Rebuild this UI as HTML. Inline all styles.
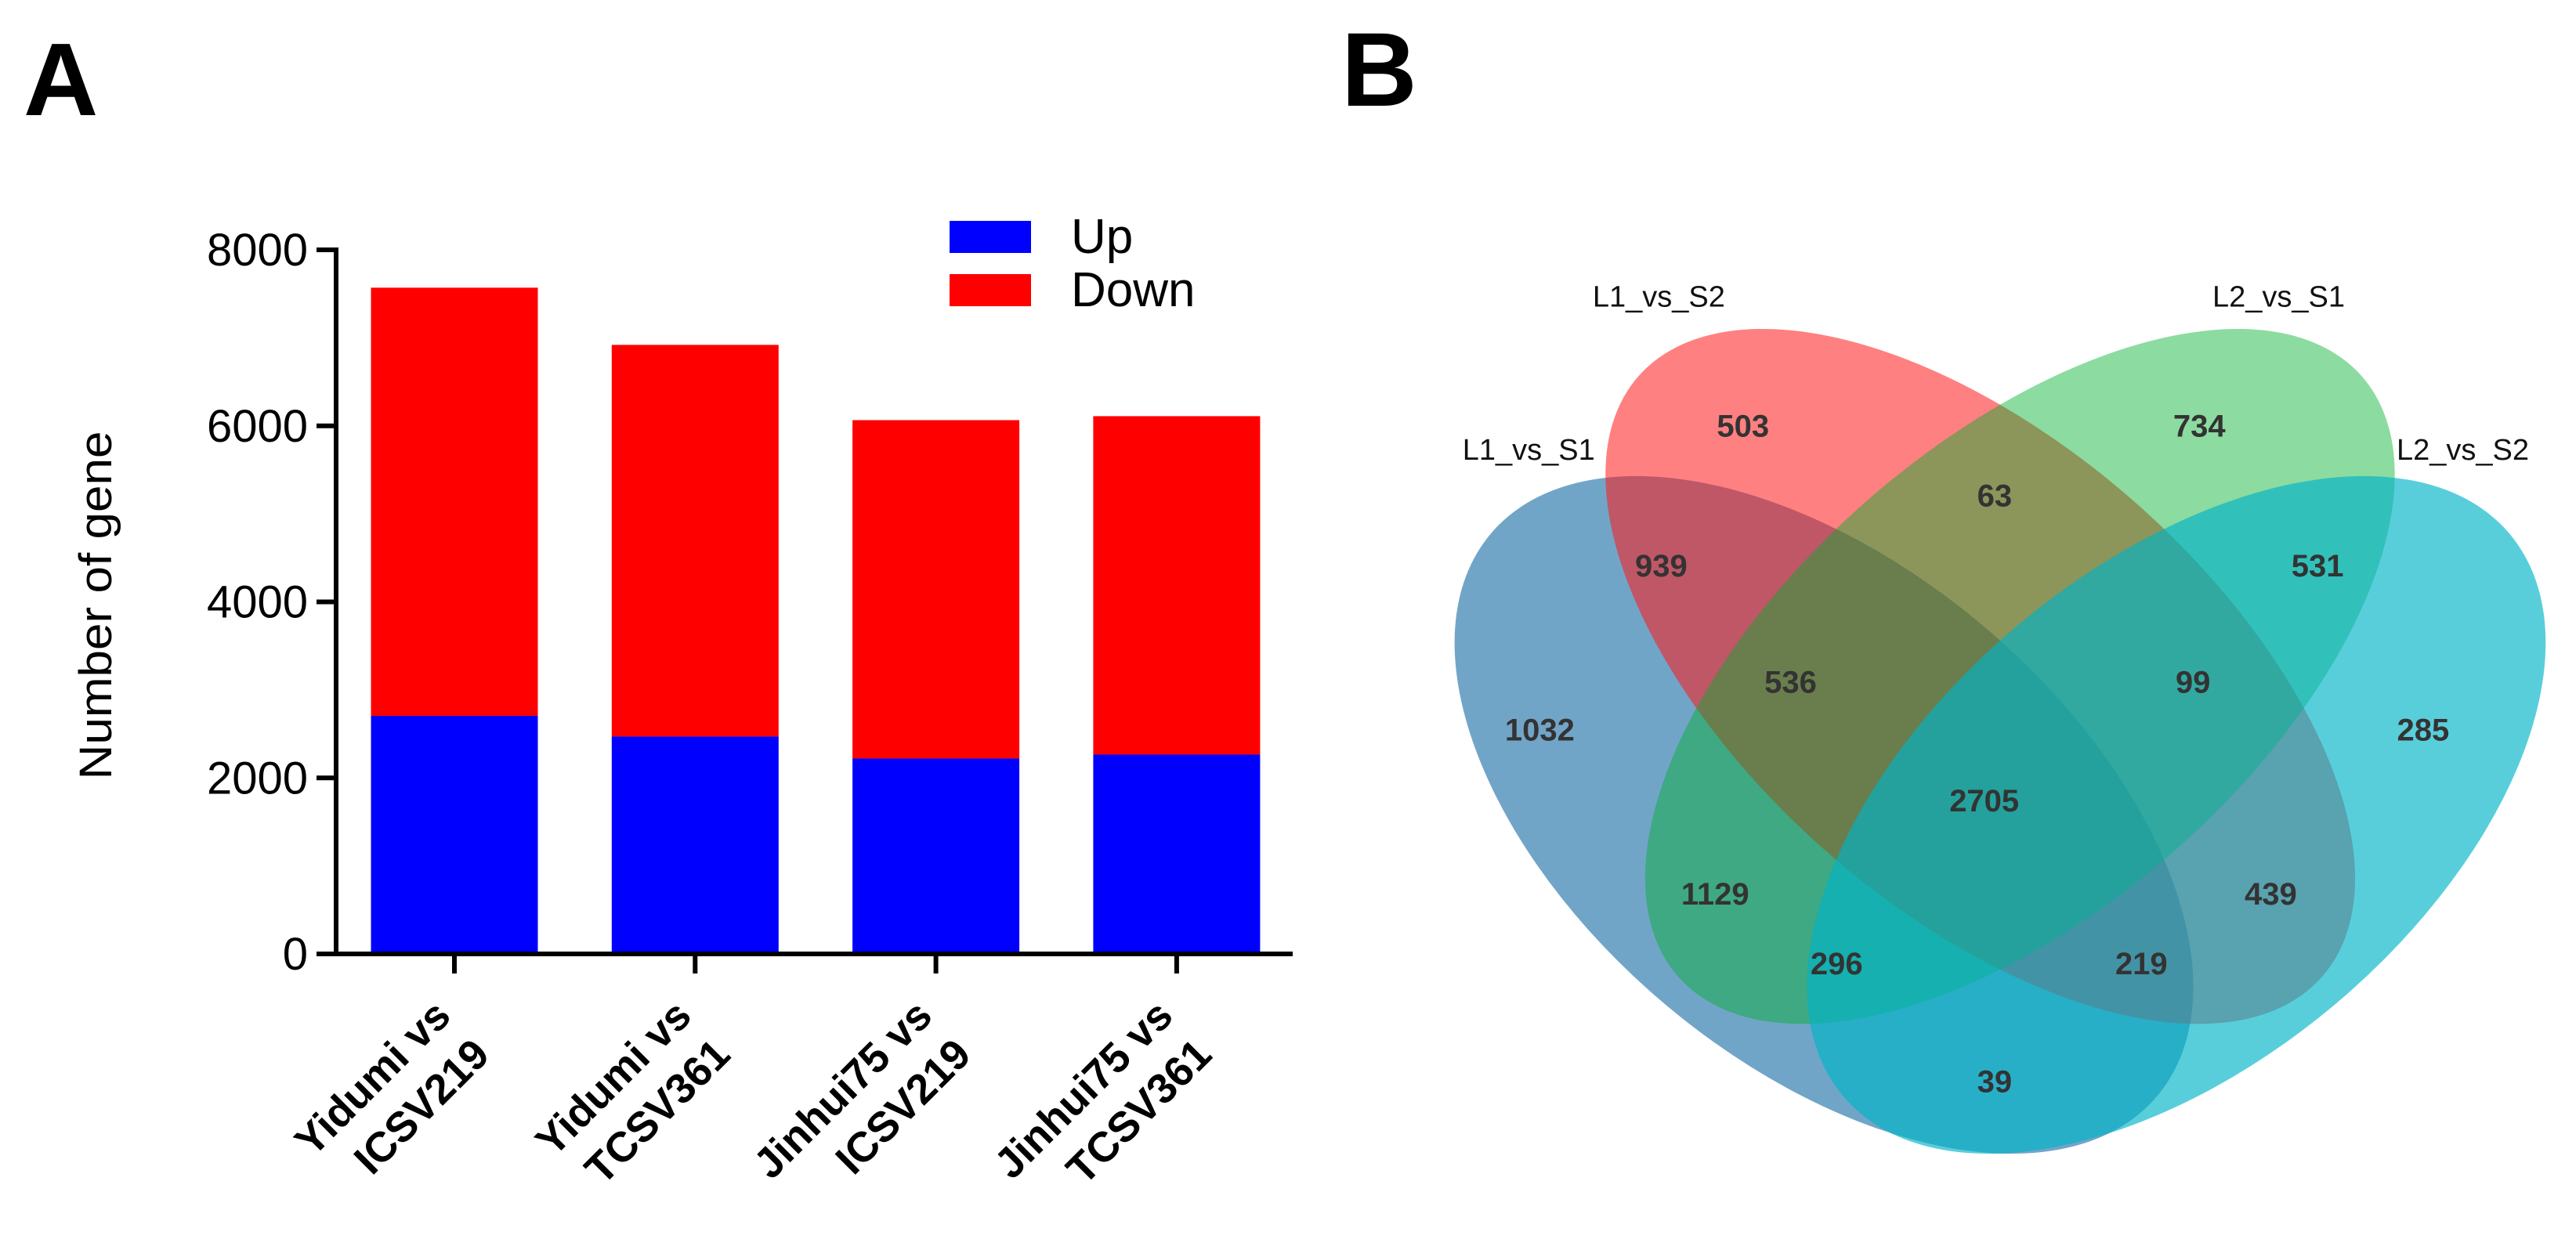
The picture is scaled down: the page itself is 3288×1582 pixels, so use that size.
<!DOCTYPE html>
<html><head><meta charset="utf-8"><style>
html,body{margin:0;padding:0;background:#fff;}
svg{display:block;font-family:"Liberation Sans",Arial,sans-serif;}
</style></head><body>
<svg id="fig" width="3288" height="1582" viewBox="0 0 3288 1582" xmlns="http://www.w3.org/2000/svg">
<text x="30" y="147" font-size="132" font-weight="bold">A</text>
<text x="1712" y="135" font-size="134" font-weight="bold">B</text>
<g id="bars"></g>
<g id="venn"></g>
</svg>
<script>
const categories = [["Yidumi vs","ICSV219"],["Yidumi vs","TCSV361"],["Jinhui75 vs","ICSV219"],["Jinhui75 vs","TCSV361"]];
const upValues = [2705, 2470, 2220, 2265];
const totalValues = [7570, 6920, 6065, 6110];
const yTicks = [0, 2000, 4000, 6000, 8000];
const legendLabels = ["Up", "Down"];

const vennSetLabels = ["L1_vs_S1", "L1_vs_S2", "L2_vs_S1", "L2_vs_S2"];
const vennCounts = [1032, 503, 734, 285, 939, 63, 531, 536, 99, 2705, 1129, 439, 296, 219, 39];

const NS = "http://www.w3.org/2000/svg";
function mk(tag, attrs, parent){const e=document.createElementNS(NS,tag);for(const k in attrs)e.setAttribute(k,attrs[k]);parent.appendChild(e);return e;}

// ---- Bar chart ----
const g = document.getElementById('bars');
const y0px = 1218, y8px = 319, axisX = 429;
const yScale = v => y0px - (v/8000)*(y0px - y8px);
const barW = 213, firstCenter = 580, step = 307.3;
const xCenter = i => firstCenter + i*step;

totalValues.forEach((t,i)=>{
  const down = mk('rect',{x:xCenter(i)-barW/2,y:yScale(t),width:barW,height:yScale(upValues[i])-yScale(t),fill:'#ff0000'},g);
  
  
  const up = mk('rect',{x:xCenter(i)-barW/2,y:yScale(upValues[i]),width:barW,height:yScale(0)-yScale(upValues[i]),fill:'#0000ff'},g);
  
  
});
const ya = mk('line',{x1:axisX,y1:y8px-3,x2:axisX,y2:y0px+3,stroke:'#000','stroke-width':6},g);


const xa = mk('line',{x1:axisX-25,y1:y0px,x2:1650,y2:y0px,stroke:'#000','stroke-width':6},g);


yTicks.forEach(v=>{
  const tk = mk('line',{x1:axisX-25,y1:yScale(v),x2:axisX,y2:yScale(v),stroke:'#000','stroke-width':6},g);
  
  
  const tl = mk('text',{x:393,y:yScale(v)+20,'font-size':58,'text-anchor':'end'},g);
  tl.textContent = v;
  
  
});
categories.forEach((c,i)=>{
  const tk = mk('line',{x1:xCenter(i),y1:y0px,x2:xCenter(i),y2:y0px+25,stroke:'#000','stroke-width':6},g);
  
  
  const tx = mk('text',{transform:`translate(${xCenter(i)-2},${y0px+82}) rotate(-45)`,'font-size':54,'font-weight':'bold','text-anchor':'end'},g);
  
  
  const t1 = mk('tspan',{x:0,y:0},tx); t1.textContent=c[0];
  const t2 = mk('tspan',{x:0,y:70},tx); t2.textContent=c[1];
});
const yt = mk('text',{transform:'translate(142,773) rotate(-90)','font-size':58,'text-anchor':'middle',textLength:445,lengthAdjust:'spacingAndGlyphs'},g);
yt.textContent='Number of gene';


const legColors=['#0000ff','#ff0000'];
legendLabels.forEach((l,i)=>{
  const r = mk('rect',{x:1212,y:282+i*68,width:104,height:41,fill:legColors[i]},g);
  
  
  const t = mk('text',{x:1367,y:323+i*68,'font-size':62},g);
  t.textContent=l;
  
  
});

// ---- Venn ----
const v = document.getElementById('venn');
const sx=1.013, sy=0.85, ox=1700, oy=250;
const P = (x,y)=>[ox+x*sx, oy+y*sy];
const eg = mk('g',{transform:`matrix(${sx},0,0,${sy},${ox},${oy})`},v);


const ell = [
  {cx:620,cy:930,rx:600,ry:340,rot:50,fill:'#1269a3',op:0.6},
  {cx:817,cy:722,rx:627,ry:320,rot:49.9,fill:'#ff1818',op:0.55},
  {cx:867,cy:722,rx:627,ry:320,rot:-49.9,fill:'#00af2c',op:0.45},
  {cx:1064,cy:930,rx:600,ry:340,rot:-50,fill:'#00b4c8',op:0.65}
];
const ellNames=['ellipse-l1-vs-s1','ellipse-l1-vs-s2','ellipse-l2-vs-s1','ellipse-l2-vs-s2'];
ell.forEach((e,i)=>{
  const el = mk('ellipse',{cx:e.cx,cy:e.cy,rx:e.rx,ry:e.ry,transform:`rotate(${e.rot} ${e.cx} ${e.cy})`,fill:e.fill,'fill-opacity':e.op},eg);
  
  
});
const setPos=[[248,380],[412,150],[1193,150],[1425,380]];
vennSetLabels.forEach((l,i)=>{
  const p=P(setPos[i][0],setPos[i][1]);
  const t=mk('text',{x:p[0],y:p[1]+14,'font-size':38,'text-anchor':'middle',fill:'#111'},v);
  t.textContent=l;
  
  
});
const cntPos=[[262,802],[518,345],[1093,345],[1375,802],[415,555],[835,450],[1242,555],[578,730],[1085,730],[822,908],[483,1048],[1183,1048],[636,1153],[1020,1153],[835,1330]];
vennCounts.forEach((c,i)=>{
  const p=P(cntPos[i][0],cntPos[i][1]);
  const t=mk('text',{x:p[0],y:p[1]+14,'font-size':40,'font-weight':'bold','text-anchor':'middle',fill:'#333'},v);
  t.textContent=c;
  
  
});
</script>
</body></html>
